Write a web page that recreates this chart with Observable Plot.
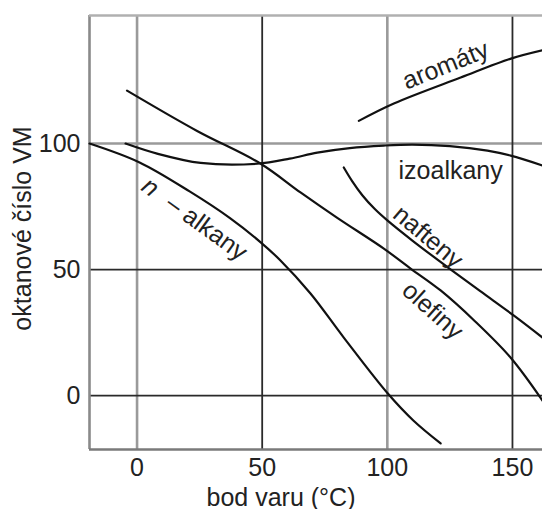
<!DOCTYPE html>
<html>
<head>
<meta charset="utf-8">
<script src="https://cdn.jsdelivr.net/npm/d3@7"></script>
<script src="https://cdn.jsdelivr.net/npm/@observablehq/plot@0.6"></script>
<style>
  html, body { margin: 0; padding: 0; background: #fff; }
  #chart svg { display: block; }
</style>
</head>
<body>
<div id="chart"></div>
<script>
// ---- data ----
const xDomain = [-19, 162];
const yDomain = [-21.4, 150.8];
const xTicks = [0, 50, 100, 150];
const yTicks = [0, 50, 100];
const gridXLight = [0, 100];
const gridXDark = [50, 150];
const gridYLight = [100];
const gridYDark = [50, 0];

const nAlkanyX = [-19, 1, 21, 37, 49.4, 57.3, 69.3, 82.6, 100.2, 110.5, 121.3];
const nAlkanyY = [100, 92.5, 81, 70.5, 60.8, 53.6, 40.5, 23, 0.8, -10, -19];

const izoalkanyX = [-4.6, 8, 25.4, 48, 61, 72, 85, 98.6, 110, 125, 140, 149.3, 162];
const izoalkanyY = [100, 96, 92.3, 92, 94, 96.4, 98.2, 99.2, 99.6, 99, 97.2, 95.2, 91.3];

const olefinyX = [-4, 24, 49.4, 65.3, 80, 98.6, 109.3, 121.3, 135, 149.3, 162];
const olefinyY = [121, 105, 92, 80.6, 70.5, 58.3, 50.4, 41.7, 29.5, 15, -2];

const naftenyX = [82.6, 86, 90, 95, 100, 110, 124, 137, 150.6, 162];
const naftenyY = [90.5, 85, 79.5, 74, 69.5, 61.5, 51, 41.5, 31.7, 23];

const aromatyX = [88.6, 102.6, 129.3, 149.4, 162];
const aromatyY = [109, 115.9, 126.2, 133.7, 137];

const labelText = ["n", "– alkany", "izoalkany", "nafteny", "olefiny", "aromáty"];
const labelX = [5.3, 27.8, 125.3, 116.3, 118.1, 123.3];
const labelY = [82.7, 66.6, 89.3, 62.9, 33.7, 131];
const labelRotate = [36, 36, 0, 40, 42, -22];
const labelItalic = [true, false, false, false, false, false];

const xLabel = "bod varu (°C)";
const yLabel = "oktanové číslo VM";

// ---- build ----
const series = (xs, ys) => xs.map((x, i) => ({x, y: ys[i]}));
const curves = [
  series(nAlkanyX, nAlkanyY),
  series(izoalkanyX, izoalkanyY),
  series(olefinyX, olefinyY),
  series(naftenyX, naftenyY),
  series(aromatyX, aromatyY)
];
const labels = labelText.map((t, i) => ({
  text: t, x: labelX[i], y: labelY[i], rotate: labelRotate[i], italic: labelItalic[i]
}));

const font = "Liberation Sans, Arial, Helvetica, sans-serif";
const fs = 25;
const light = "#9a9a9a";
const dark = "#2a2a2a";

const chart = Plot.plot({
  width: 542,
  height: 509,
  marginLeft: 89,
  marginTop: 15,
  marginBottom: 60,
  marginRight: 0,
  style: {fontFamily: font, fontSize: fs + "px", color: "#222", background: "#fff", overflow: "hidden"},
  x: {domain: xDomain, axis: null},
  y: {domain: yDomain, axis: null},
  marks: [
    Plot.ruleX(gridXLight, {stroke: light, strokeWidth: 2.6}),
    Plot.ruleY(gridYLight, {stroke: light, strokeWidth: 2.6}),
    Plot.ruleX(gridXDark, {stroke: dark, strokeWidth: 1.8}),
    Plot.ruleY(gridYDark, {stroke: dark, strokeWidth: 1.8}),
    Plot.ruleX([xDomain[0]], {stroke: "#8a8a8a", strokeWidth: 2.6}),
    Plot.ruleY([yDomain[1]], {stroke: "#b0b0b0", strokeWidth: 2.6}),
    Plot.ruleY([yDomain[0]], {stroke: "#7a7a7a", strokeWidth: 2.6}),
    Plot.axisX(xTicks, {label: null, tickSize: 0, tickPadding: 9, fontSize: fs, fill: "#222", tickFormat: d => String(d)}),
    Plot.axisY(yTicks, {label: null, tickSize: 0, tickPadding: 9, fontSize: fs, fill: "#222", tickFormat: d => String(d)}),
    ...curves.map(c => Plot.line(c, {x: "x", y: "y", curve: "catmull-rom", stroke: "#111", strokeWidth: 2.2})),
    Plot.text(labels.filter(d => !d.italic), {x: "x", y: "y", text: "text", rotate: "rotate", fontSize: fs, fill: "#222", textAnchor: "middle", lineAnchor: "middle"}),
    Plot.text(labels.filter(d => d.italic), {x: "x", y: "y", text: "text", rotate: "rotate", fontSize: fs, fontStyle: "italic", fill: "#222", textAnchor: "middle", lineAnchor: "middle"}),
    Plot.text([xLabel], {frameAnchor: "bottom", dx: -35, dy: 48, text: d => d, fontSize: fs, fill: "#222", textAnchor: "middle", lineAnchor: "middle"}),
    Plot.text([yLabel], {frameAnchor: "left", dx: -67, dy: -4, rotate: -90, text: d => d, fontSize: fs, fill: "#222", textAnchor: "middle", lineAnchor: "middle"})
  ]
});
document.getElementById("chart").appendChild(chart);
</script>
</body>
</html>
